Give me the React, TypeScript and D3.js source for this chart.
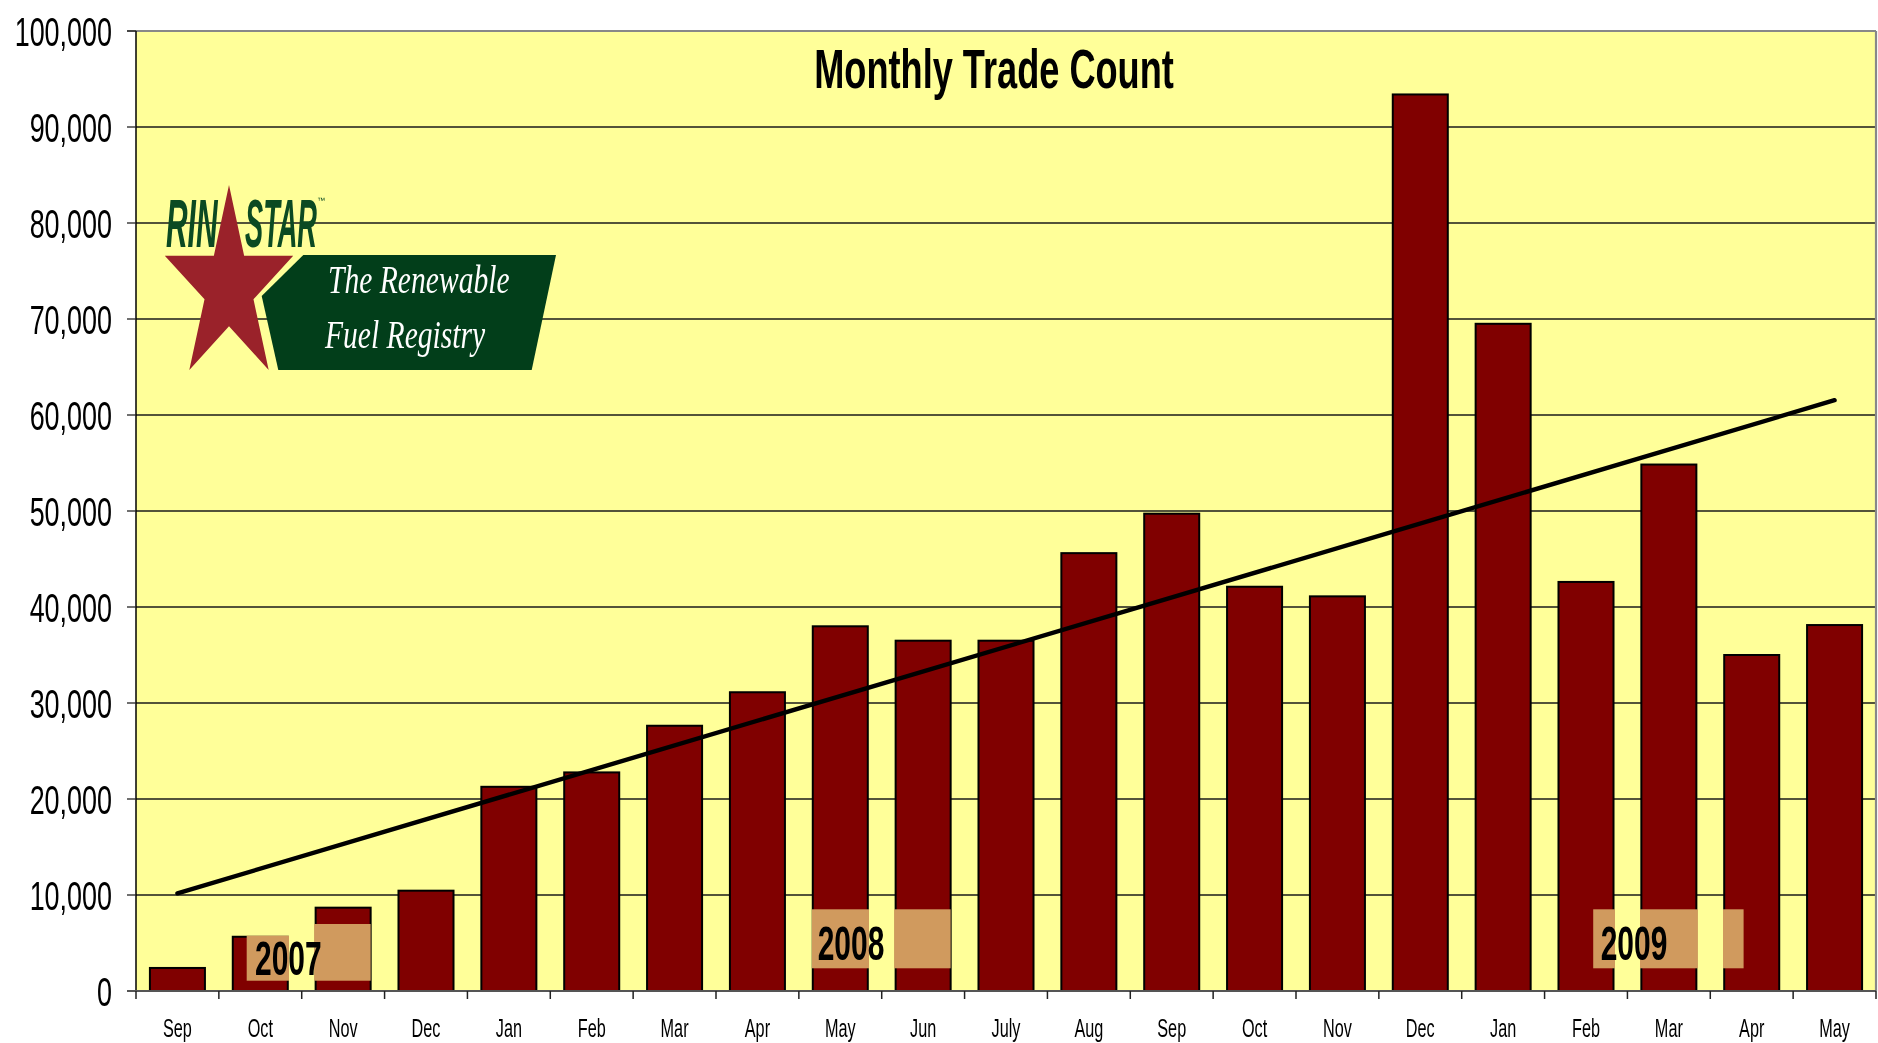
import * as d3 from 'd3';
import { useEffect } from 'react';

// monthly trade counts, Sep 2007 .. May 2009
const months = ['Sep', 'Oct', 'Nov', 'Dec', 'Jan', 'Feb', 'Mar', 'Apr', 'May', 'Jun', 'July', 'Aug',
  'Sep', 'Oct', 'Nov', 'Dec', 'Jan', 'Feb', 'Mar', 'Apr', 'May'];
const trades = [2400, 5650, 8680, 10450, 21270, 22770, 27630, 31120, 37990, 36490, 36490, 45610,
  49720, 42110, 41110, 93390, 69500, 42610, 54840, 35000, 38120];
const yTicks = d3.range(0, 100001, 10000);

// year call-outs: label, span in category units, span in values
const yearLabels = ['2007', '2008', '2009'];
const yearCats = [[1.336, 2.832], [8.158, 9.832], [17.587, 19.402]];
const yearVals = [[1070, 6980], [2365, 8510], [2365, 8510]];
const yearText = [[1.436, 1670], [8.227, 3230], [17.677, 3230]];

const W = 1878;
const H = 1043;
const left = 136;
const right = 1876;
const top = 31;
const bottom = 991;

function Narrow({ x, y, sx, size, weight = 'normal', anchor = 'start', fill = '#000', family = '"Liberation Sans", Arial, sans-serif', italic = false, children }: any) {
  return (
    <g transform={`translate(${x},${y}) scale(${sx},1)`}>
      <text fontFamily={family} fontSize={size} fontWeight={weight} fontStyle={italic ? 'italic' : 'normal'}
        textAnchor={anchor} fill={fill}>{children}</text>
    </g>
  );
}

function Logo() {
  const cx = 229, cy = 287.3, R = 102.3, r = 39, sx = 0.66;
  const pts = d3.range(10).map(k => {
    const a = (k * Math.PI) / 5;
    const rad = k % 2 ? r : R;
    return [cx + sx * rad * Math.sin(a), cy - rad * Math.cos(a)];
  });
  const banner = [[303.3, 255], [556, 255], [531.7, 370], [278.3, 370], [261.7, 296]];
  return (
    <g>
      <polygon points={pts.map(p => p.join(',')).join(' ')} fill="#9a222a" />
      <polygon points={banner.map(p => p.join(',')).join(' ')} fill="#023e1a" />
      <Narrow x={166} y={246.5} sx={0.44} size={68} weight="bold" italic fill="#0b4a22">RIN</Narrow>
      <Narrow x={245} y={246.5} sx={0.4} size={68} weight="bold" italic fill="#0b4a22">STAR</Narrow>
      <text x={317} y={203} fontSize={8} fill="#0b4a22" fontFamily="Liberation Sans">™</text>
      <Narrow x={328} y={293} sx={0.74} size={40} italic fill="#fff" family='"Liberation Serif", serif'>The Renewable</Narrow>
      <Narrow x={325} y={348} sx={0.74} size={40} italic fill="#fff" family='"Liberation Serif", serif'>Fuel Registry</Narrow>
    </g>
  );
}

export default function App() {
  useEffect(() => {
    document.body.style.margin = '0';
  }, []);

  const x = d3.scaleBand<number>().domain(d3.range(months.length)).range([left, right])
    .paddingInner(0.336).paddingOuter(0.168);
  const xi = d3.scaleLinear().domain([0, months.length]).range([left, right]);
  const y = d3.scaleLinear().domain([0, 100000]).range([bottom, top]);

  // linear trend line (least squares)
  const idx = d3.range(trades.length);
  const mx = d3.mean(idx) as number;
  const my = d3.mean(trades) as number;
  const slope = d3.sum(idx, i => (i - mx) * (trades[i] - my)) / d3.sum(idx, i => (i - mx) ** 2);
  const icpt = my - slope * mx;
  const trendPts: [number, number][] = [0, trades.length - 1].map(i => [i, icpt + slope * i]);
  const line = d3.line<[number, number]>()
    .x(d => (x(d[0]) as number) + x.bandwidth() / 2)
    .y(d => y(d[1]));

  return (
    <svg width={W} height={H} style={{ position: 'absolute', left: 0, top: 0, background: '#fff' }}>
      <rect x={left} y={top} width={right - left} height={bottom - top} fill="#ffff99" />
      {yTicks.slice(1, -1).map(t => (
        <line key={t} x1={left} x2={right} y1={y(t)} y2={y(t)} stroke="#1a1a1a" strokeWidth={1.3} />
      ))}
      <line x1={left - 9} x2={right} y1={top} y2={top} stroke="#888" strokeWidth={2.2} />
      <line x1={right} x2={right} y1={top} y2={bottom} stroke="#888" strokeWidth={2.2} />

      {trades.map((v, i) => (
        <rect key={i} x={x(i)} y={y(v)} width={x.bandwidth()} height={bottom - y(v)}
          fill="#800000" stroke="#000" strokeWidth={2} />
      ))}

      {yearLabels.map((lab, k) => (
        <rect key={lab} x={xi(yearCats[k][0])} width={xi(yearCats[k][1]) - xi(yearCats[k][0])}
          y={y(yearVals[k][1])} height={y(yearVals[k][0]) - y(yearVals[k][1])}
          fill="#d09a5e" style={{ mixBlendMode: 'lighten' }} />
      ))}

      <path d={line(trendPts) as string} fill="none" stroke="#000" strokeWidth={4.4} strokeLinecap="round" />

      {yearLabels.map((lab, k) => (
        <Narrow key={lab} x={xi(yearText[k][0])} y={y(yearText[k][1])} sx={0.624} size={48} weight="bold">{lab}</Narrow>
      ))}

      {/* axes */}
      <line x1={left} x2={left} y1={top} y2={bottom} stroke="#000" strokeWidth={1.5} />
      <line x1={left - 9} x2={right} y1={bottom} y2={bottom} stroke="#555" strokeWidth={2.2} />
      {yTicks.slice(1).map(t => (
        <line key={t} x1={left - 9} x2={left} y1={y(t)} y2={y(t)} stroke="#222" strokeWidth={1.3} />
      ))}
      {yTicks.map(t => (
        <Narrow key={t} x={112} y={y(t) + 14.7} sx={0.657} size={41} anchor="end">{d3.format(',')(t)}</Narrow>
      ))}
      {d3.range(months.length + 1).map(i => (
        <line key={i} x1={xi(i)} x2={xi(i)} y1={bottom} y2={bottom + 8} stroke="#222" strokeWidth={1.5} />
      ))}
      {months.map((m, i) => (
        <Narrow key={i} x={(x(i) as number) + x.bandwidth() / 2} y={1036.5} sx={0.65} size={25} anchor="middle">{m}</Narrow>
      ))}

      <Narrow x={994} y={88} sx={0.646} size={56} weight="bold" anchor="middle">Monthly Trade Count</Narrow>

      <Logo />
    </svg>
  );
}
